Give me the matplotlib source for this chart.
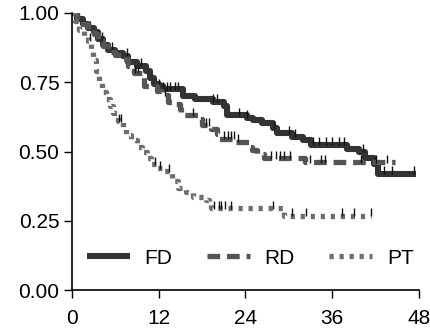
import numpy as np
import matplotlib
matplotlib.use("Agg")
import matplotlib.pyplot as plt

# Kaplan-Meier steps: time of each drop (months) and survival after it
fd_t = [0, 0.7, 1.5, 2.2, 3.0, 3.6, 4.3, 5.0, 6.0, 7.0, 7.7, 9.0, 10.2, 10.8, 11.3,
        12.0, 12.6, 15.3, 17.0, 19.5, 21.0, 21.4, 24.2, 25.0, 26.3, 27.8, 28.3,
        30.4, 32.0, 33.0, 38.0, 39.7, 40.5, 41.8, 42.4]
fd_s = [1.0, 0.98, 0.96, 0.945, 0.93, 0.905, 0.885, 0.868, 0.857, 0.846, 0.822,
        0.81, 0.79, 0.765, 0.745, 0.735, 0.725, 0.70, 0.69, 0.68, 0.665, 0.632,
        0.622, 0.612, 0.603, 0.585, 0.565, 0.554, 0.543, 0.525, 0.51, 0.50,
        0.478, 0.455, 0.42]
fd_end = 47.6

rd_t = [0, 0.7, 1.5, 2.2, 3.0, 3.6, 4.3, 5.0, 6.0, 7.0, 7.7, 8.6, 10.0, 11.8,
        12.5, 13.3, 14.2, 14.9, 15.1, 17.5, 18.0, 19.2, 20.0, 20.4, 22.5, 24.6,
        24.9, 25.6, 26.5, 32.3]
rd_s = [1.0, 0.98, 0.96, 0.94, 0.925, 0.9, 0.88, 0.86, 0.85, 0.835, 0.81, 0.785,
        0.735, 0.72, 0.704, 0.68, 0.67, 0.654, 0.63, 0.618, 0.596, 0.583, 0.564,
        0.546, 0.536, 0.518, 0.505, 0.49, 0.475, 0.462]
rd_end = 44.7

pt_t = [0, 0.4, 1.0, 1.6, 2.2, 2.7, 2.9, 3.3, 3.7, 4.2, 4.7, 5.2, 5.7, 6.3, 7.0,
        7.5, 8.2, 9.0, 9.7, 10.4, 11.0, 11.6, 12.4, 13.8, 14.6, 15.8, 16.7, 18.5,
        19.0, 19.3, 29.3]
pt_s = [1.0, 0.97, 0.94, 0.915, 0.9, 0.87, 0.83, 0.79, 0.75, 0.715, 0.69, 0.665,
        0.64, 0.61, 0.585, 0.56, 0.54, 0.515, 0.5, 0.475, 0.455, 0.44, 0.43, 0.395,
        0.37, 0.355, 0.335, 0.325, 0.31, 0.296, 0.268]
pt_end = 41.4

# censored observations (months)
fd_cens = [2.5, 4.2, 5.6, 7.6, 9.6, 12.1, 12.6, 13.1, 13.6, 14.2, 14.6, 19.5, 20.0,
           23.1, 24.2, 27.9, 30.0, 30.8, 33.3, 34.2, 35.1, 36.0, 36.9, 37.7, 40.3,
           41.9, 43.1, 44.3, 47.3]
rd_cens = [8.7, 9.2, 12.9, 16.8, 18.6, 19.0, 21.0, 21.6, 22.0, 22.4, 23.0, 27.5,
           28.2, 28.8, 29.3, 30.1, 32.9, 34.5, 35.0, 40.0, 42.0, 43.6]
pt_cens = [2.5, 6.5, 6.8, 11.5, 12.2, 13.4, 19.7, 20.3, 20.6, 21.2, 22.0, 27.8,
           30.5, 32.4, 37.4, 39.0, 41.3]

labels = ["FD", "RD", "PT"]
x_ticks = [0, 12, 24, 36, 48]
y_ticks = [0.0, 0.25, 0.5, 0.75, 1.0]

plt.rcParams['font.family'] = ['Liberation Sans', 'DejaVu Sans']

fig = plt.figure(figsize=(4.31, 3.29), dpi=100)
ax = fig.add_axes([0.167, 0.1185, 0.805, 0.842])


def step_value(times, surv, t):
    i = np.searchsorted(times, t, side='right') - 1
    return np.asarray(surv)[i]


groups = [
    (fd_t, fd_s, fd_end, fd_cens, '#333333', '-', 4.4),
    (rd_t, rd_s, rd_end, rd_cens, '#555555', (0, (2.4, 1.3)), 3.8),
    (pt_t, pt_s, pt_end, pt_cens, '#6e6e6e', (0, (0.8, 1.1)), 3.8),
]

for (t, s, end, cens, col, ls, lw), lab in zip(groups, labels):
    tt = list(t) + [end]
    ss = list(s) + [s[-1]]
    ax.step(tt, ss, where='post', color=col, linestyle=ls, linewidth=lw,
            label=lab, solid_capstyle='butt', dash_capstyle='butt')
    cy = step_value(t, s, np.array(cens))
    ax.plot(cens, cy + 0.012, linestyle='none', marker='|', markersize=6,
            markeredgewidth=1.0, color='#111111')

ax.set_xlim(0, 48)
ax.set_ylim(0, 1.0)
ax.set_xticks(x_ticks)
ax.set_xticklabels([str(v) for v in x_ticks])
ax.set_yticks(y_ticks)
ax.set_yticklabels([f"{v:.2f}" for v in y_ticks])
ax.tick_params(direction='out', length=6, width=1.0, labelsize=15)
ax.tick_params(axis='x', pad=8)
ax.tick_params(axis='y', pad=3)
for side in ['top', 'right']:
    ax.spines[side].set_visible(False)
for side in ['left', 'bottom']:
    ax.spines[side].set_linewidth(1.2)

ax.legend(loc='center left', bbox_to_anchor=(0.043, 0.115), ncol=3, frameon=False,
          fontsize=15, handlelength=2.05, handletextpad=0.72, columnspacing=1.65,
          borderaxespad=0, borderpad=0)

fig.savefig("out.png", dpi=100)
